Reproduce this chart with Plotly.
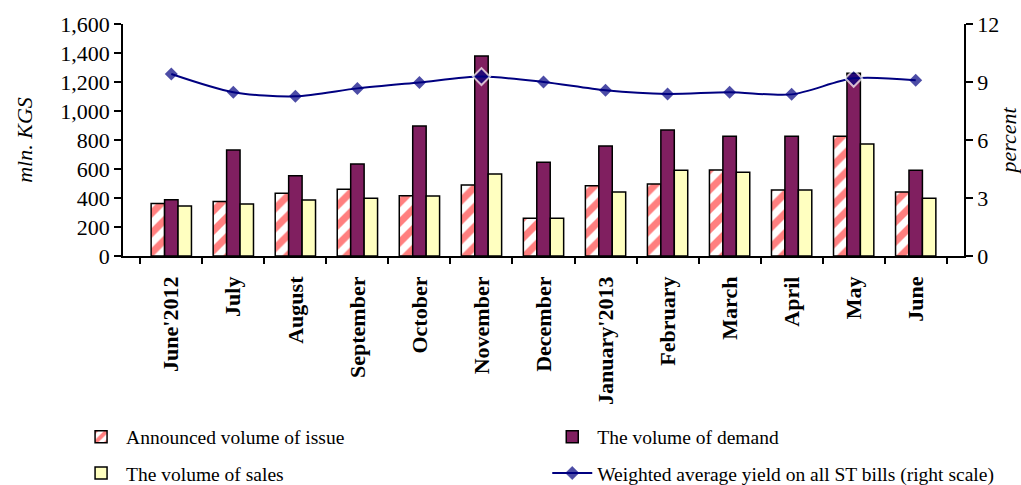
import plotly.graph_objects as go

months = ["June'2012", "July", "August", "September", "October", "November",
          "December", "January'2013", "February", "March", "April", "May", "June"]
announced = [362, 375, 432, 460, 416, 490, 260, 485, 497, 593, 455, 825, 441]
demand = [388, 731, 554, 634, 897, 1380, 646, 759, 869, 825, 825, 1260, 591]
sales = [345, 359, 386, 398, 414, 566, 260, 441, 591, 577, 455, 772, 398]
yield_pct = [9.41, 8.47, 8.26, 8.67, 8.98, 9.28, 9.0, 8.57, 8.38, 8.47, 8.36, 9.19, 9.09]

serif = "Liberation Serif"
navy = "#000080"
highlight = {"November", "May"}

fig = go.Figure()
fig.add_trace(go.Bar(
    x=months, y=announced, name="Announced volume of issue",
    marker=dict(color="white", line=dict(color="black", width=1.5),
                pattern=dict(shape="/", fgcolor="#FF0000", bgcolor="white",
                             size=14, solidity=0.5)),
    legend="legend"))
fig.add_trace(go.Bar(
    x=months, y=demand, name="The volume of demand",
    marker=dict(color="#801F60", line=dict(color="black", width=1.5)),
    legend="legend2"))
fig.add_trace(go.Bar(
    x=months, y=sales, name="The volume of sales",
    marker=dict(color="#FFFFC0", line=dict(color="black", width=1.5)),
    legend="legend3"))
fig.add_trace(go.Scatter(
    x=months, y=yield_pct, yaxis="y2", mode="lines+markers",
    name="Weighted average yield on all ST bills (right scale)",
    line=dict(color=navy, width=2, shape="spline", smoothing=0.8),
    marker=dict(symbol="diamond", color=navy,
                size=[13 if m in highlight else 10 for m in months],
                line=dict(color=["white" if m in highlight else navy for m in months],
                          width=[2 if m in highlight else 0 for m in months])),
    legend="legend4"))

# one legend box per entry, laid out as a 2x2 grid under the chart
legend_common = dict(orientation="h", xanchor="left", yanchor="middle",
                     xref="container", yref="container",
                     font=dict(family=serif, size=19.5, color="black"),
                     bgcolor="rgba(0,0,0,0)", itemwidth=40)
col_x = [0.0745, 0.536]
row_y = [0.099, 0.024]

fig.update_layout(
    width=1021, height=485, showlegend=True,
    margin=dict(l=123, r=57, t=24, b=229, autoexpand=False),
    paper_bgcolor="white", plot_bgcolor="white",
    barmode="group", bargap=0.35, bargroupgap=0,
    font=dict(family=serif, color="black"),
    xaxis=dict(type="category", showline=True, linecolor="black", linewidth=1.5,
               ticks="outside", tickson="boundaries", ticklen=6, tickcolor="black",
               tickwidth=1.5, tickangle=-90, automargin=False,
               tickfont=dict(family=serif, size=22, color="black", weight="bold"),
               showgrid=False, ticklabelstandoff=10),
    yaxis=dict(range=[0, 1600], dtick=200, tickformat=",d", showline=True,
               linecolor="black", linewidth=1.5, ticks="outside", ticklen=7,
               tickcolor="black", tickwidth=1.5, showgrid=False, zeroline=False,
               automargin=False,
               tickfont=dict(family=serif, size=22, color="black"),
               title=dict(text="mln. KGS", standoff=22,
                          font=dict(family=serif, size=22, color="black", style="italic"))),
    yaxis2=dict(range=[0, 12], dtick=3, overlaying="y", side="right", showline=True,
                linecolor="black", linewidth=1.5, ticks="outside", ticklen=7,
                tickcolor="black", tickwidth=1.5, showgrid=False, zeroline=False,
                automargin=False,
                tickfont=dict(family=serif, size=22, color="black"),
                title=dict(text="percent", standoff=20,
                           font=dict(family=serif, size=22, color="black", style="italic"))),
    legend=dict(x=col_x[0], y=row_y[0], **legend_common),
    legend2=dict(x=col_x[1], y=row_y[0], **legend_common),
    legend3=dict(x=col_x[0], y=row_y[1], **legend_common),
    legend4=dict(x=col_x[1], y=row_y[1], **legend_common),
)

fig.write_html("out.html")
